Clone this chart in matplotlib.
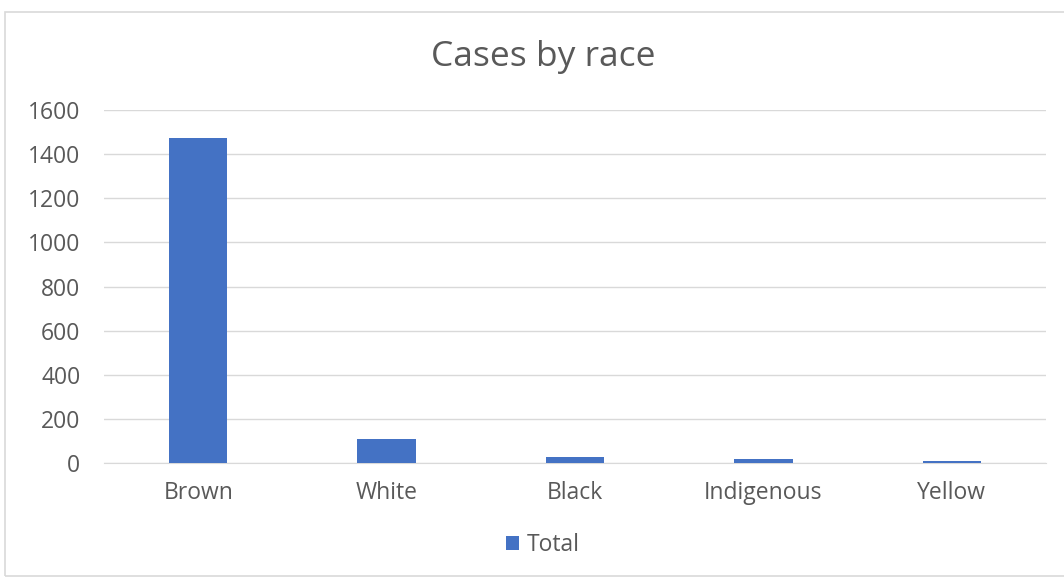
import matplotlib.pyplot as plt
from matplotlib.patches import Rectangle

# Dados
racas = ['Brown', 'White', 'Black', 'Indigenous', 'Yellow']
casos = [1473, 109, 27, 18, 9]
ticks_y = [0, 200, 400, 600, 800, 1000, 1200, 1400, 1600]

cor_barra = '#4472C4'
cor_texto = '#595959'
cor_grade = '#D9D9D9'

plt.rcParams['font.family'] = ['Open Sans', 'DejaVu Sans']

fig = plt.figure(figsize=(10.64, 5.78), dpi=100)
ax = fig.add_axes([104 / 1064, 1 - 463 / 578, 942 / 1064, 353 / 578])

ax.bar(racas, casos, width=0.31, color=cor_barra, zorder=3, label='Total')

ax.set_ylim(0, 1600)
ax.set_yticks(ticks_y)
ax.set_xlim(-0.5, len(racas) - 0.5)
ax.grid(axis='y', color=cor_grade, linewidth=1, zorder=0)
for lado in ['top', 'right', 'left']:
    ax.spines[lado].set_visible(False)
ax.spines['bottom'].set_color(cor_grade)
ax.tick_params(axis='both', length=0, labelsize=16.5, colors=cor_texto)
ax.tick_params(axis='y', pad=17)
ax.tick_params(axis='x', pad=13)

fig.text(543 / 1064, 1 - 57 / 578, 'Cases by race', ha='center', va='center',
         fontsize=25.5, color=cor_texto)

fig.legend(loc='center', bbox_to_anchor=(543 / 1064, 1 - 545 / 578), frameon=False,
           fontsize=16.5, labelcolor=cor_texto, handlelength=0.55, handleheight=0.55,
           handletextpad=0.35)

# Borda externa
fig.patches.append(Rectangle((5 / 1064, 2 / 578), 1.0, 1 - 14 / 578,
                             transform=fig.transFigure, fill=False,
                             edgecolor=cor_grade, linewidth=1.2))

fig.savefig('out.png', dpi=100, facecolor='white')
